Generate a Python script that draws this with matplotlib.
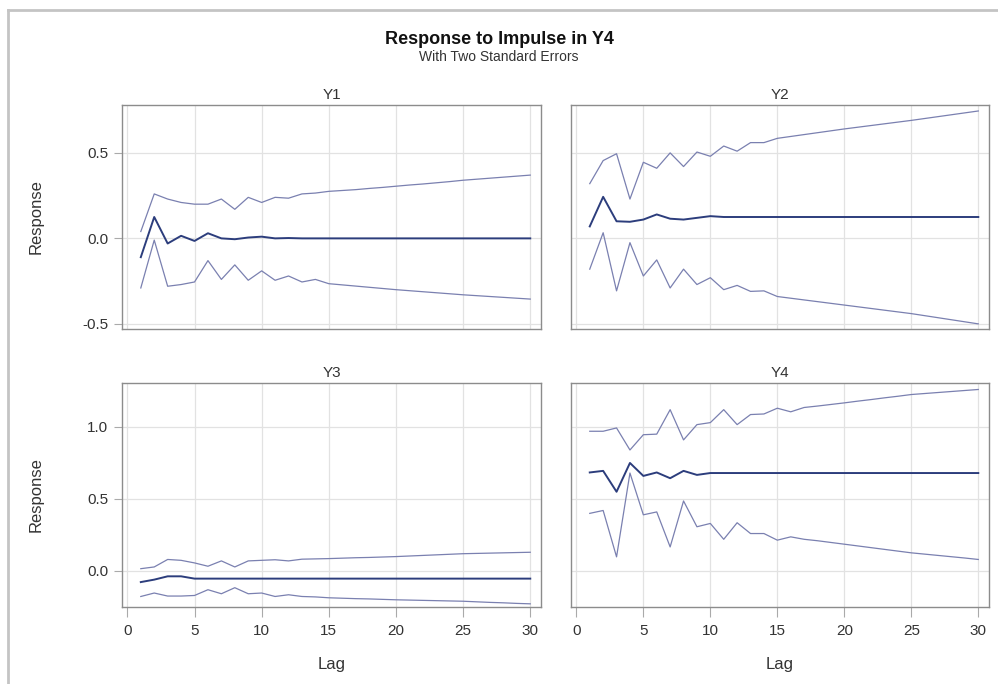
import matplotlib
matplotlib.use("Agg")
import matplotlib.pyplot as plt
from matplotlib.lines import Line2D

lags = list(range(1, 31))

y1_resp = [-0.11, 0.125, -0.03, 0.015, -0.015, 0.03, 0.0, -0.005, 0.005, 0.01,
           0.0, 0.002, 0.0, 0.0, 0.0, 0.0, 0.0, 0.0, 0.0, 0.0,
           0.0, 0.0, 0.0, 0.0, 0.0, 0.0, 0.0, 0.0, 0.0, 0.0]
y1_up = [0.04, 0.26, 0.23, 0.21, 0.20, 0.20, 0.23, 0.17, 0.24, 0.21,
         0.24, 0.235, 0.26, 0.265, 0.275, 0.28, 0.285, 0.292, 0.298, 0.305,
         0.312, 0.318, 0.325, 0.332, 0.34, 0.346, 0.352, 0.358, 0.364, 0.37]
y1_lo = [-0.29, -0.01, -0.28, -0.27, -0.255, -0.13, -0.24, -0.155, -0.245, -0.19,
         -0.245, -0.22, -0.255, -0.24, -0.265, -0.272, -0.279, -0.286, -0.293, -0.30,
         -0.306, -0.312, -0.318, -0.324, -0.33, -0.335, -0.34, -0.345, -0.35, -0.355]

y2_resp = [0.07, 0.243, 0.10, 0.097, 0.11, 0.14, 0.115, 0.11, 0.12, 0.13,
           0.125, 0.125, 0.125, 0.125, 0.125, 0.125, 0.125, 0.125, 0.125, 0.125,
           0.125, 0.125, 0.125, 0.125, 0.125, 0.125, 0.125, 0.125, 0.125, 0.125]
y2_up = [0.32, 0.455, 0.495, 0.23, 0.445, 0.41, 0.50, 0.42, 0.505, 0.48,
         0.54, 0.51, 0.56, 0.56, 0.585, 0.596, 0.607, 0.618, 0.629, 0.64,
         0.65, 0.66, 0.67, 0.68, 0.69, 0.701, 0.712, 0.723, 0.734, 0.745]
y2_lo = [-0.18, 0.033, -0.307, -0.025, -0.22, -0.126, -0.29, -0.18, -0.27, -0.23,
         -0.30, -0.275, -0.31, -0.307, -0.34, -0.35, -0.36, -0.37, -0.38, -0.39,
         -0.40, -0.41, -0.42, -0.43, -0.44, -0.452, -0.464, -0.476, -0.488, -0.50]

y3_resp = [-0.077, -0.06, -0.037, -0.037, -0.053, -0.053, -0.053, -0.053, -0.053, -0.053,
           -0.053, -0.053, -0.053, -0.053, -0.053, -0.053, -0.053, -0.053, -0.053, -0.053,
           -0.053, -0.053, -0.053, -0.053, -0.053, -0.053, -0.053, -0.053, -0.053, -0.053]
y3_up = [0.016, 0.028, 0.08, 0.074, 0.056, 0.033, 0.07, 0.028, 0.07, 0.074,
         0.078, 0.07, 0.082, 0.084, 0.086, 0.089, 0.092, 0.094, 0.097, 0.10,
         0.104, 0.108, 0.112, 0.116, 0.12, 0.122, 0.124, 0.126, 0.128, 0.13]
y3_lo = [-0.177, -0.153, -0.174, -0.174, -0.17, -0.13, -0.158, -0.116, -0.158, -0.153,
         -0.177, -0.165, -0.177, -0.18, -0.186, -0.189, -0.192, -0.194, -0.197, -0.20,
         -0.202, -0.204, -0.206, -0.208, -0.21, -0.214, -0.218, -0.221, -0.225, -0.228]

y4_resp = [0.684, 0.695, 0.55, 0.75, 0.66, 0.684, 0.644, 0.695, 0.667, 0.68,
           0.68, 0.68, 0.68, 0.68, 0.68, 0.68, 0.68, 0.68, 0.68, 0.68,
           0.68, 0.68, 0.68, 0.68, 0.68, 0.68, 0.68, 0.68, 0.68, 0.68]
y4_up = [0.97, 0.97, 0.993, 0.84, 0.946, 0.95, 1.12, 0.91, 1.016, 1.03,
         1.12, 1.016, 1.086, 1.09, 1.13, 1.105, 1.135, 1.145, 1.156, 1.167,
         1.179, 1.19, 1.202, 1.213, 1.225, 1.232, 1.239, 1.246, 1.253, 1.26]
y4_lo = [0.40, 0.42, 0.098, 0.68, 0.39, 0.41, 0.167, 0.486, 0.307, 0.33,
         0.22, 0.335, 0.26, 0.26, 0.214, 0.237, 0.22, 0.21, 0.198, 0.186,
         0.174, 0.162, 0.15, 0.138, 0.126, 0.117, 0.108, 0.099, 0.09, 0.08]

panels = [("Y1", y1_resp, y1_up, y1_lo),
          ("Y2", y2_resp, y2_up, y2_lo),
          ("Y3", y3_resp, y3_up, y3_lo),
          ("Y4", y4_resp, y4_up, y4_lo)]

x_ticks = [0, 5, 10, 15, 20, 25, 30]
top_yticks = [-0.5, 0.0, 0.5]
top_ylabels = ["-0.5", "0.0", "0.5"]
bot_yticks = [0.0, 0.5, 1.0]
bot_ylabels = ["0.0", "0.5", "1.0"]

plt.rcParams['font.family'] = ['Liberation Sans', 'DejaVu Sans']

fig = plt.figure(figsize=(9.98, 6.84), dpi=100)
fig.patch.set_facecolor("white")

W, H = 998, 684
def rect(l, t, r, b):
    return [l / W, 1 - b / H, (r - l) / W, (b - t) / H]

rects = [rect(122, 105, 541, 329), rect(571, 105, 989, 329),
         rect(122, 383, 541, 607), rect(571, 383, 989, 607)]

resp_color = "#2c3d7c"
band_color = "#7a80b0"
frame_color = "#8c8c8c"
text_color = "#333333"

for i, (name, resp, up, lo) in enumerate(panels):
    ax = fig.add_axes(rects[i])
    ax.plot(lags, up, color=band_color, lw=0.9)
    ax.plot(lags, lo, color=band_color, lw=0.9)
    ax.plot(lags, resp, color=resp_color, lw=1.4)
    ax.set_xlim(-0.4, 30.8)
    ax.set_xticks(x_ticks)
    ax.grid(True, color="#e2e2e2", lw=0.9)
    ax.set_axisbelow(True)
    for s in ax.spines.values():
        s.set_color(frame_color)
        s.set_linewidth(1.0)
    ax.tick_params(axis='both', labelcolor=text_color, color="#aaaaaa",
                   labelsize=11, width=0.8)
    ax.tick_params(axis='x', length=7, pad=5)
    ax.tick_params(axis='y', length=6, pad=4)
    if i < 2:
        ax.set_ylim(-0.53, 0.78)
        ax.set_yticks(top_yticks)
        ax.set_yticklabels(top_ylabels)
        ax.tick_params(axis='x', labelbottom=False, length=0)
    else:
        ax.set_ylim(-0.25, 1.305)
        ax.set_yticks(bot_yticks)
        ax.set_yticklabels(bot_ylabels)
        ax.set_xlabel("Lag", fontsize=12, color=text_color)
        ax.xaxis.set_label_coords(0.5, -0.222)
    if i % 2 == 1:
        ax.tick_params(axis='y', labelleft=False, length=0)
    else:
        ax.set_ylabel("Response", fontsize=12, color=text_color)
        ax.yaxis.set_label_coords(-0.187, 0.5)
    ax.set_title(name, fontsize=11, pad=4, color=text_color)

fig.text(0.5, 1 - 40 / H, "Response to Impulse in Y4", ha="center", va="center",
         fontsize=13, fontweight="bold", color="#111111")
fig.text(0.5, 1 - 57 / H, "With Two Standard Errors", ha="center", va="center",
         fontsize=10, color=text_color)

# outer frame lines (top and left)
fig.add_artist(Line2D([8 / W, 1], [1 - 10 / H, 1 - 10 / H], color="#c4c4c4", lw=2))
fig.add_artist(Line2D([8 / W, 8 / W], [0, 1 - 10 / H], color="#c4c4c4", lw=2))

fig.savefig("out.png", dpi=100, facecolor="white")
